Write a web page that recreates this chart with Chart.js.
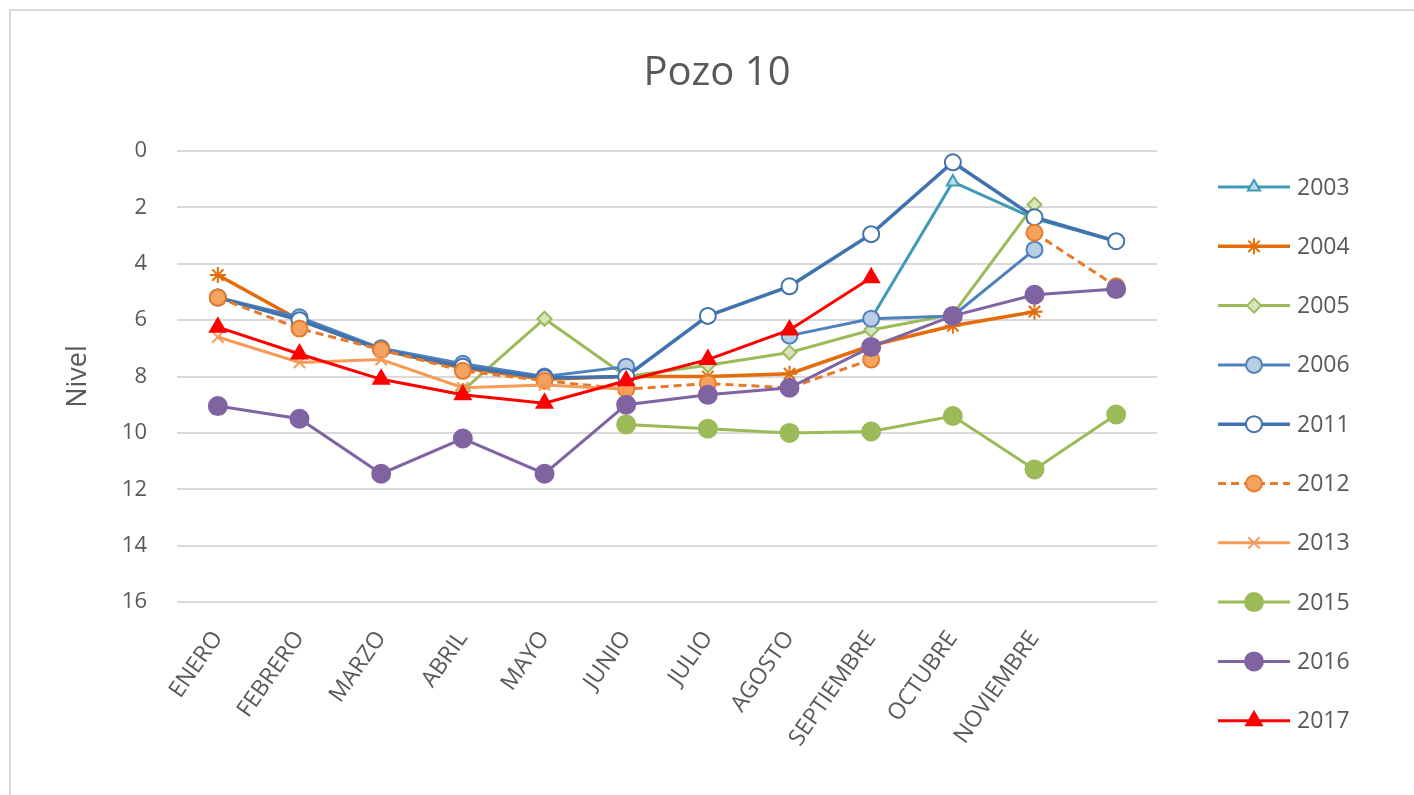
<!DOCTYPE html>
<html>
<head>
<meta charset="utf-8">
<script src="https://cdn.jsdelivr.net/npm/chart.js@4"></script>
<style>
html,body{margin:0;padding:0;background:#fff;}
#wrap{position:relative;width:1414px;height:795px;overflow:hidden;}
canvas{display:block;}
</style>
</head>
<body>
<div id="wrap"><canvas id="c" width="1414" height="795"></canvas></div>
<script>
const months = ['ENERO','FEBRERO','MARZO','ABRIL','MAYO','JUNIO','JULIO','AGOSTO','SEPTIEMBRE','OCTUBRE','NOVIEMBRE',''];
const years = ['2003','2004','2005','2006','2011','2012','2013','2015','2016','2017'];
const yTicks = [0,2,4,6,8,10,12,14,16];
const chartTitle = 'Pozo 10';
const yTitle = 'Nivel';

const s2003 = [null,null,null,null,null,null,null,null,5.95,1.1,2.4,3.2];
const s2004 = [4.4,6.0,7.05,7.7,8.1,8.0,8.0,7.9,6.9,6.2,5.7,null];
const s2005 = [null,null,null,8.5,5.95,8.0,7.6,7.15,6.35,5.8,1.9,null];
const s2006 = [5.2,5.9,7.0,7.55,8.0,7.65,null,6.55,5.95,5.85,3.5,null];
const s2011 = [5.2,6.0,7.05,7.65,8.05,8.0,5.85,4.8,2.95,0.4,2.35,3.2];
const s2012 = [5.2,6.3,7.05,7.8,8.15,8.45,8.25,8.4,7.4,null,2.9,4.8];
const s2013 = [6.6,7.5,7.4,8.4,8.3,8.45,null,null,null,null,null,null];
const s2015 = [null,null,null,null,null,9.7,9.85,10.0,9.95,9.4,11.3,9.35];
const s2016 = [9.05,9.5,11.45,10.2,11.45,9.0,8.65,8.4,6.95,5.85,5.1,4.9];
const s2017 = [6.25,7.2,8.1,8.65,8.95,8.15,7.4,6.35,4.5,null,null,null];

const seriesData = [s2003,s2004,s2005,s2006,s2011,s2012,s2013,s2015,s2016,s2017];
const styles = [
  {c:'#3E9BB5', bg:'#B7DEE8', ps:'triangle', r:7, w:3},
  {c:'#E46C0A', bg:'#E46C0A', ps:'star', r:8, w:3.5},
  {c:'#9BBB59', bg:'#D7E4BD', ps:'rectRot', r:7, w:3},
  {c:'#4F81BD', bg:'#B9CDE5', ps:'circle', r:8, w:3},
  {c:'#3F72AF', bg:'#FFFFFF', ps:'circle', r:8, w:3.5},
  {c:'#E87A2C', bg:'#F4A460', ps:'circle', r:8, w:3, dash:[8,5]},
  {c:'#F79A56', bg:'#F79A56', ps:'crossRot', r:8, w:3},
  {c:'#9BBB59', bg:'#9BBB59', ps:'circle', r:9, w:3},
  {c:'#8064A2', bg:'#8064A2', ps:'circle', r:9, w:3},
  {c:'#FF0000', bg:'#FF0000', ps:'triangle', r:9, w:3}
];
const FONT = '"Open Sans", "DejaVu Sans", sans-serif';

const datasets = years.map((y,i)=>({
  label: y,
  data: seriesData[i],
  borderColor: styles[i].c,
  backgroundColor: styles[i].bg,
  borderWidth: styles[i].w,
  borderDash: styles[i].dash || [],
  pointStyle: styles[i].ps,
  pointRadius: styles[i].r,
  pointBorderWidth: 2,
  pointBorderColor: styles[i].c,
  pointBackgroundColor: styles[i].bg,
  tension: 0,
  spanGaps: false,
  order: years.length - i
}));

const frame = {
  id:'frame',
  beforeDraw(chart){
    const ctx = chart.ctx;
    ctx.save();
    ctx.fillStyle='#fff';
    ctx.fillRect(0,0,chart.width,chart.height);
    ctx.strokeStyle='#D9D9D9';
    ctx.lineWidth=2;
    ctx.strokeRect(10,10,chart.width+20,chart.height+20);
    ctx.fillStyle='#595959';
    ctx.font = '40px ' + FONT;
    ctx.textAlign='center';
    ctx.textBaseline='middle';
    ctx.fillText(chartTitle, 717, 74);
    ctx.restore();
  }
};

const customLegend = {
  id:'customLegend',
  afterDraw(chart){
    const ctx = chart.ctx;
    const x0 = 1218, x1 = 1290, tx = 1297, y0 = 187, dy = 59.3;
    chart.data.datasets.forEach((ds,i)=>{
      const y = y0 + i*dy;
      ctx.save();
      ctx.strokeStyle = ds.borderColor;
      ctx.lineWidth = ds.borderWidth;
      ctx.setLineDash(ds.borderDash || []);
      ctx.beginPath(); ctx.moveTo(x0,y); ctx.lineTo(x1,y); ctx.stroke();
      ctx.setLineDash([]);
      ctx.fillStyle = ds.pointBackgroundColor;
      ctx.strokeStyle = ds.pointBorderColor;
      ctx.lineWidth = ds.pointBorderWidth;
      Chart.helpers.drawPoint(ctx, {pointStyle: ds.pointStyle, radius: ds.pointRadius, rotation:0, borderWidth: ds.pointBorderWidth}, (x0+x1)/2, y);
      ctx.fillStyle = '#595959';
      ctx.font = '23px ' + FONT;
      ctx.textBaseline = 'middle';
      ctx.textAlign = 'left';
      ctx.fillText(ds.label, tx, y+1);
      ctx.restore();
    });
  }
};

new Chart(document.getElementById('c'), {
  type:'line',
  data:{labels: months, datasets},
  options:{
    responsive:false,
    animation:false,
    devicePixelRatio:1,
    layout:{padding:{left:62, right:257, top:151, bottom:10}},
    plugins:{
      legend:{display:false},
      tooltip:{enabled:false},
      title:{display:false}
    },
    scales:{
      x:{
        offset:true,
        grid:{display:false, drawTicks:false},
        border:{display:false},
        afterFit(axis){ axis.height = 183; },
        ticks:{autoSkip:false, minRotation:55, maxRotation:55, color:'#595959', padding:24,
          font:{family:FONT, size:23}}
      },
      y:{
        reverse:true, min:0, max:16,
        afterBuildTicks(axis){ axis.ticks = yTicks.map(v=>({value:v})); },
        afterFit(axis){ axis.width = 115; },
        grid:{color:'#D9D9D9', lineWidth:2, drawTicks:false},
        border:{display:false},
        title:{display:true, text:yTitle, color:'#595959',
          font:{family:FONT, size:27}, padding:{top:0, bottom:0}},
        ticks:{color:'#595959', padding:30,
          font:{family:FONT, size:22}}
      }
    }
  },
  plugins:[frame, customLegend]
});
</script>
</body>
</html>
